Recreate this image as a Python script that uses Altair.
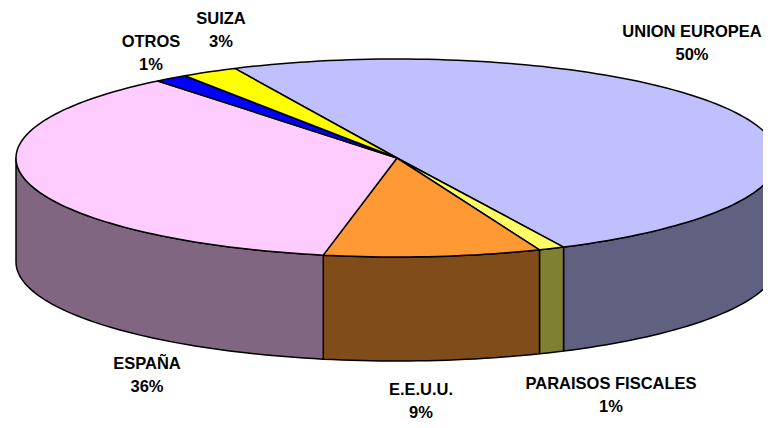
import math
import altair as alt
import pandas as pd

names = ["UNION EUROPEA", "PARAISOS FISCALES", "E.E.U.U.", "ESPAÑA", "OTROS", "SUIZA"]
shares = [49.8, 1.1, 9.2, 36.1, 1.4, 2.4]
pct_labels = ["50%", "1%", "9%", "36%", "1%", "3%"]
top_colors = ["#C0C0FF", "#FFFF66", "#FF9933", "#FFCCFF", "#0000FF", "#FFFF00"]
wall_colors = ["#606080", "#808033", "#804D1A", "#806680", "#000080", "#808000"]
label_x = [692, 611, 421, 147, 151, 221]
label_y = [32, 384, 390, 364, 42, 19]

# page geometry of the drawing
W, H = 755, 412
CX, CY = 397 - 8, 158 - 8
RX, RY, DEPTH = 381, 99, 104
START = -25.2
LINE = 22.5

xs = alt.Scale(domain=[-CX, W - CX], nice=False, zero=False)
ys = alt.Scale(domain=[H - CY, -CY], nice=False, zero=False)


def rim(deg, drop=0):
    a = math.radians(deg)
    return RX * math.sin(a), RY * -math.cos(a) + drop


def arc_pts(a0, a1, drop=0):
    n = max(2, int(abs(a1 - a0) / 1.5) + 2)
    return [rim(a0 + (a1 - a0) * i / (n - 1), drop) for i in range(n)]


def poly(points, fill):
    df = pd.DataFrame(points, columns=["x", "y"])
    df["i"] = range(len(df))
    return (
        alt.Chart(df)
        .mark_line(fill=fill, stroke="#000000", strokeWidth=1.5, strokeJoin="round", clip=True, interpolate="linear")
        .encode(
            x=alt.X("x:Q", scale=xs, axis=None),
            y=alt.Y("y:Q", scale=ys, axis=None),
            order=alt.Order("i:Q"),
        )
    )


# angular extent of each slice, clockwise from the top of the ellipse
total = sum(shares)
bounds = [START]
for s in shares:
    bounds.append(bounds[-1] + s / total * 360)

walls, tops = [], []
for k in range(len(shares)):
    a0, a1 = bounds[k], bounds[k + 1]
    vis0, vis1 = max(a0, 90), min(a1, 270)
    if vis1 > vis0:
        front = arc_pts(vis0, vis1)
        back = arc_pts(vis1, vis0, DEPTH)
        pts = front + back
        walls.append(poly(pts + [pts[0]], wall_colors[k]))
    pts = [(0, 0)] + arc_pts(a0, a1)
    tops.append(poly(pts + [pts[0]], top_colors[k]))

labels = pd.DataFrame({
    "name": names,
    "pct": pct_labels,
    "x": [v - 8 - CX for v in label_x],
    "y": [v - 8 - CY for v in label_y],
})
labels["y2"] = labels["y"] + LINE

txt = dict(font="Liberation Sans", fontWeight="bold", fontSize=16.5, color="#000000", align="center", baseline="middle")
name_text = alt.Chart(labels).mark_text(**txt).encode(
    x=alt.X("x:Q", scale=xs, axis=None), y=alt.Y("y:Q", scale=ys, axis=None), text="name:N"
)
pct_text = alt.Chart(labels).mark_text(**txt).encode(
    x=alt.X("x:Q", scale=xs, axis=None), y=alt.Y("y2:Q", scale=ys, axis=None), text="pct:N"
)

chart = (
    alt.layer(*walls, *tops, name_text, pct_text)
    .properties(width=W, height=H, padding=0, autosize=alt.AutoSizeParams(type="none"), background="#FFFFFF")
    .configure_view(stroke=None)
)
chart.save("out.html", embed_options={"renderer": "svg", "actions": False})
